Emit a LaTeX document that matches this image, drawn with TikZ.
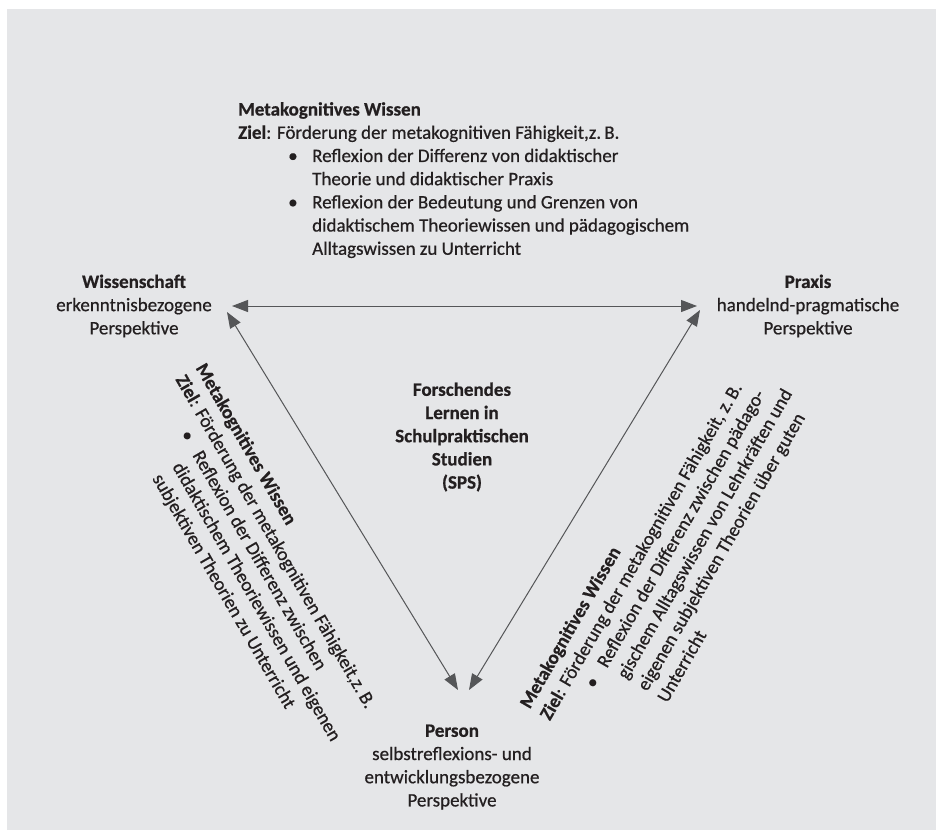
\documentclass[tikz,border=0pt]{standalone}
\usepackage{fontspec}
\setmainfont{Carlito}[UprightFeatures={FakeBold=0.6}, BoldFont={* Bold}, BoldFeatures={FakeBold=0.6}]
\usetikzlibrary{arrows.meta}
\definecolor{bgGray}{HTML}{E5E6E8}
\definecolor{inkGray}{HTML}{231F20}
\definecolor{lineGray}{HTML}{555658}
\newcommand{\bulletline}{\hspace*{50pt}\makebox[24pt][l]{\textbullet}}
\newcommand{\hangline}{\hspace*{74pt}}

\begin{document}
\begin{tikzpicture}[x=1pt,y=-1pt,
    every node/.style={text=inkGray, inner sep=0pt, font=\fontsize{19}{23.2}\selectfont},
    corner/.style={align=center},
    goal/.style={align=left, anchor=north west},
    link/.style={draw=lineGray, line width=1pt, <->,
      >={Triangle[length=16pt,width=12pt]}}]
  \useasboundingbox (0,0) rectangle (936,830);
  \fill[bgGray] (7,9) rectangle (936,830);

  % the three perspectives
  \node[corner] (wiss) at (134,306) {\textbf{Wissenschaft}\\erkenntnisbezogene\\Perspektive};
  \node[corner] (praxis) at (808,306) {\textbf{Praxis}\\handelnd-pragmatische\\Perspektive};
  \node[corner] (person) at (452,767) {\textbf{Person}\\selbstreflexions- und\\entwicklungsbezogene\\Perspektive};
  \node[corner, font=\fontsize{19}{23.2}\selectfont\bfseries] (sps) at (462,437)
    {Forschendes\\Lernen in\\Schulpraktischen\\Studien\\(SPS)};

  % arrow ends
  \coordinate (wissH) at (232,306);
  \coordinate (praxisH) at (697,306);
  \coordinate (wissD) at (227,312);
  \coordinate (praxisD) at (700,310);
  \coordinate (personL) at (458,690);
  \coordinate (personR) at (469,690);

  \draw[link] (wissH) -- (praxisH);
  \draw[link] (wissD) -- (personL);
  \draw[link] (praxisD) -- (personR);

  % goals along the sides
  \node[goal] (goalTop) at (238,102) {\textbf{Metakognitives Wissen}\\
    \textbf{Ziel}: Förderung der metakognitiven Fähigkeit,z.\,B.\\
    \bulletline Reflexion der Differenz von didaktischer\\
    \hangline Theorie und didaktischer Praxis\\
    \bulletline Reflexion der Bedeutung und Grenzen von\\
    \hangline didaktischem Theoriewissen und pädagogischem\\
    \hangline Alltagswissen zu Unterricht};

  \node[goal, rotate=-60] (goalLeft) at (207,361) {\textbf{Metakognitives Wissen}\\
    \textbf{Ziel}: Förderung der metakognitiven Fähigkeit,z.\,B.\\
    \bulletline Reflexion der Differenz zwischen\\
    \hangline didaktischem Theoriewissen und eigenen\\
    \hangline subjektiven Theorien zu Unterricht};

  \node[goal, rotate=60] (goalRight) at (518,703) {\textbf{Metakognitives Wissen}\\
    \textbf{Ziel}: Förderung der metakognitiven Fähigkeit, z.\,B.\\
    \bulletline Reflexion der Differenz zwischen pädago-\\
    \hangline gischem Alltagswissen von Lehrkräften und\\
    \hangline eigenen subjektiven Theorien über guten\\
    \hangline Unterricht};
\end{tikzpicture}
\end{document}
